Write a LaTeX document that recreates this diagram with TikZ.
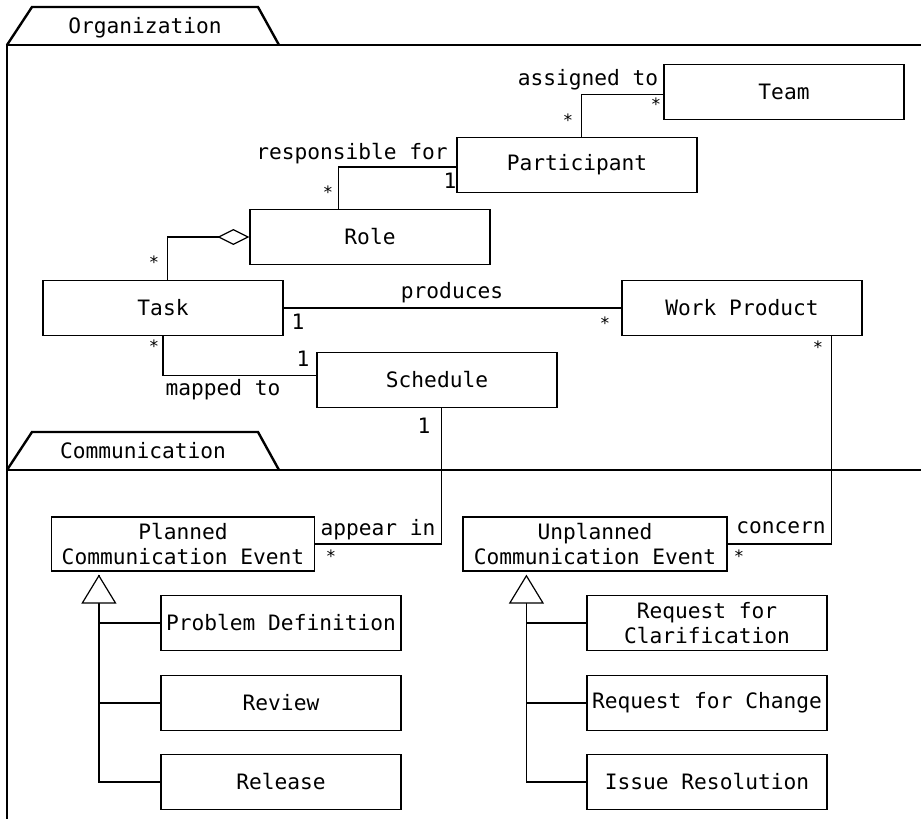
\documentclass[tikz,border=0pt]{standalone}
\usepackage{fontspec}
\setmonofont{DejaVu Sans Mono}
\usetikzlibrary{arrows.meta,positioning,calc}

\begin{document}
\begin{tikzpicture}[
    x=0.5pt, y=-0.5pt,
    font=\ttfamily\fontsize{10.6}{12.4}\selectfont,
    umlclass/.style={draw, line width=0.6pt, minimum width=120pt, minimum height=27.5pt, align=center, inner sep=1pt},
    pkg/.style={line width=1.2pt, line join=miter},
    link/.style={line width=0.6pt},
    mult/.style={inner sep=0pt},
    star/.style={inner sep=0pt, font=\ttfamily\fontsize{8.5}{10}\selectfont},
    aggr/.style={link, {Diamond[open, length=16pt, width=8pt]}-},
    inherit/.style={link, -{Triangle[open, fill=white, length=14.5pt, width=17.5pt]}}
  ]
    \useasboundingbox (0,0) rectangle (921,819);
    % packages
    \draw[pkg] (7,45) -- (32,7) -- (258,7) -- (279,45);
    \draw[pkg] (7,819) -- (7,45) -- (921,45);
    \node (orgname) at (145,28) {Organization};
    \draw[pkg] (7,470) -- (32,432) -- (258,432) -- (279,470);
    \draw[pkg] (7,470) -- (921,470);
    \node (comname) at (143,451) {Communication};
    % classes
    \node[umlclass] (team) at (784,92) {Team};
    \node[umlclass] (participant) at (577,165) {Participant};
    \node[umlclass] (role) at (370,237) {Role};
    \node[umlclass] (task) at (163,308) {Task};
    \node[umlclass] (workproduct) at (742,308) {Work Product};
    \node[umlclass] (schedule) at (437,380) {Schedule};
    \node[umlclass, minimum width=131.5pt, minimum height=27pt] (planned) at (183,544) {Planned\\Communication Event};
    \node[umlclass, minimum width=132pt, minimum height=27pt] (unplanned) at (595,544) {Unplanned\\Communication Event};
    \foreach \n/\y/\t in {probdef/623/Problem Definition, review/703/Review, release/782/Release}
      \node[umlclass] (\n) at (281,\y) {\t};
    \foreach \n/\y/\t in {reqclar/623/{Request for\\Clarification}, reqchange/703/Request for Change, issueres/782/Issue Resolution}
      \node[umlclass] (\n) at (707,\y) {\t};
    % associations
    \draw[link] ([xshift=62.5pt]participant.north west) |- ([yshift=-1.25pt]team.west);
    \draw[link] ([xshift=44.5pt]role.north west) |- ([yshift=-1pt]participant.west);
    \draw[aggr] (role.west) -| ([xshift=62.5pt]task.north west);
    \draw[link] (task) -- (workproduct);
    \draw[link] (task.south) |- ([yshift=2.25pt]schedule.west);
    \draw[link] ([xshift=2.25pt]schedule.south) |- (planned.east);
    \draw[link] ([xshift=44.75pt]workproduct.south) |- (unplanned.east);
    % generalizations
    \coordinate (pgen) at ([xshift=24pt, yshift=-1.5pt]planned.south west);
    \coordinate (ugen) at ([xshift=32pt, yshift=-1.5pt]unplanned.south west);
    \foreach \c in {probdef,review}
      \draw[link] (\c.west) -| (pgen);
    \draw[inherit] (release.west) -| (pgen);
    \foreach \c in {reqclar,reqchange}
      \draw[link] (\c.west) -| (ugen);
    \draw[inherit] (issueres.west) -| (ugen);
    % role names and multiplicities
    \node (assigned) at (588,80) {assigned to};
    \node[star] (m1) at (568,120) {*};
    \node[star] (m2) at (656,104) {*};
    \node (responsible) at (352,154) {responsible for};
    \node[mult] (m3) at (450,181) {1};
    \node[star] (m4) at (328,192) {*};
    \node[star] (m5) at (154,262) {*};
    \node (produces) at (452,293) {produces};
    \node[mult] (m6) at (298,322) {1};
    \node[star] (m7) at (605,323) {*};
    \node[star] (m8) at (154,346) {*};
    \node[mult] (m9) at (303,359) {1};
    \node (mapped) at (223,390) {mapped to};
    \node[mult] (m10) at (424,426) {1};
    \node[star] (m11) at (818,347) {*};
    \node (appear) at (378,530) {appear in};
    \node[star] (m12) at (331,556) {*};
    \node (concern) at (781,528) {concern};
    \node[star] (m13) at (739,556) {*};
\end{tikzpicture}
\end{document}
